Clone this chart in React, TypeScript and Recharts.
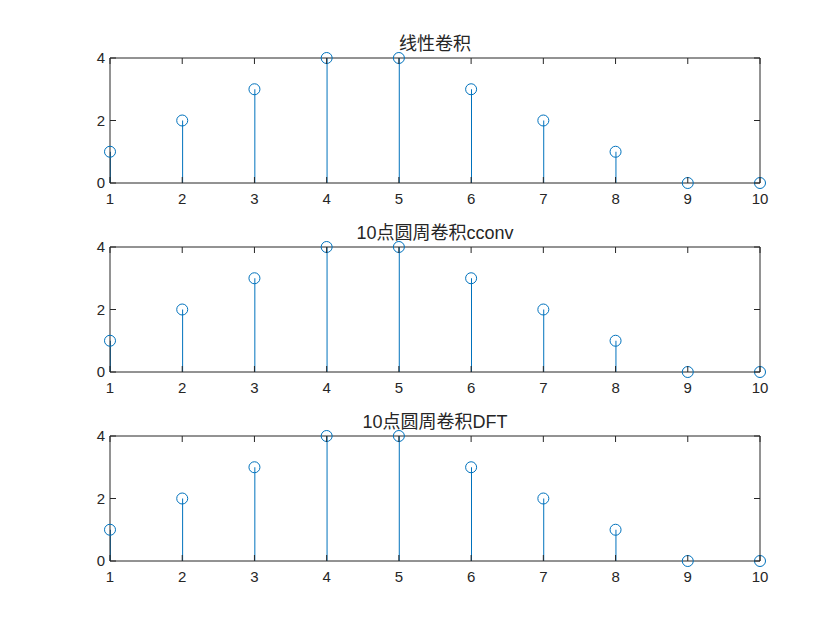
import { ComposedChart, Bar, Scatter, XAxis, YAxis } from 'recharts';

// 横坐标 n = 1..10
const nValues = [1, 2, 3, 4, 5, 6, 7, 8, 9, 10];
// 三个子图的结果
const linearConv = [1, 2, 3, 4, 4, 3, 2, 1, 0, 0];
const circConv = [1, 2, 3, 4, 4, 3, 2, 1, 0, 0];
const dftConv = [1, 2, 3, 4, 4, 3, 2, 1, 0, 0];
const titles = ['线性卷积', '10点圆周卷积cconv', '10点圆周卷积DFT'];
const xTicks = [1, 2, 3, 4, 5, 6, 7, 8, 9, 10];
const yTicks = [0, 2, 4];

const STEM = '#0072BD';
const AXIS = '#262626';
const FONT = '"Liberation Sans", Arial, "Noto Sans CJK SC", sans-serif';
const TICK_LEN = 6;

const BOX_TOPS = [57.5, 246.5, 435.5];
const M_TOP = 10;

const XTick = (props: any) => {
  const { x, y, payload, orientation } = props;
  if (orientation === 'top') {
    return <line x1={x} y1={y} x2={x} y2={y + TICK_LEN} stroke={AXIS} />;
  }
  return (
    <g>
      <line x1={x} y1={y} x2={x} y2={y - TICK_LEN} stroke={AXIS} />
      <text x={x} y={y + 21} textAnchor="middle" fontSize={15} fill={AXIS} fontFamily={FONT}>
        {payload.value}
      </text>
    </g>
  );
};

const YTick = (props: any) => {
  const { x, y, payload, orientation } = props;
  if (orientation === 'right') {
    return <line x1={x} y1={y} x2={x - TICK_LEN} y2={y} stroke={AXIS} />;
  }
  return (
    <g>
      <line x1={x} y1={y} x2={x + TICK_LEN} y2={y} stroke={AXIS} />
      <text x={x - 5} y={y} dy="0.36em" textAnchor="end" fontSize={15} fill={AXIS} fontFamily={FONT}>
        {payload.value}
      </text>
    </g>
  );
};

const StemHead = (props: any) => {
  const { cx, cy } = props;
  return <circle cx={cx} cy={cy} r={5.5} fill="none" stroke={STEM} strokeWidth={1} />;
};

const Nothing = () => <g />;

const StemPlot = ({ values, top }: { values: number[]; top: number }) => {
  const data = nValues.map((n, i) => ({ n, v: values[i] }));
  return (
    <div style={{ position: 'absolute', left: 0, top }}>
      <ComposedChart
        width={840}
        height={171}
        data={data}
        margin={{ top: M_TOP, right: 79, left: 80, bottom: 5 }}
      >
        <XAxis
          dataKey="n"
          type="number"
          domain={[1, 10]}
          ticks={xTicks}
          height={30}
          tickSize={0}
          tickMargin={0}
          stroke={AXIS}
          tick={<XTick orientation="bottom" />}
          tickLine={false}
        />
        <XAxis
          xAxisId="top"
          dataKey="n"
          type="number"
          orientation="top"
          domain={[1, 10]}
          ticks={xTicks}
          height={1}
          tickSize={0}
          tickMargin={0}
          stroke={AXIS}
          tick={<XTick orientation="top" />}
          tickLine={false}
        />
        <YAxis
          type="number"
          domain={[0, 4]}
          ticks={yTicks}
          width={30}
          tickSize={0}
          tickMargin={0}
          stroke={AXIS}
          tick={<YTick orientation="left" />}
          tickLine={false}
        />
        <YAxis
          yAxisId="right"
          type="number"
          orientation="right"
          domain={[0, 4]}
          ticks={yTicks}
          width={1}
          tickSize={0}
          tickMargin={0}
          stroke={AXIS}
          tick={<YTick orientation="right" />}
          tickLine={false}
        />
        <Bar dataKey="v" barSize={1} fill={STEM} isAnimationActive={false} />
        <Scatter dataKey="v" shape={<StemHead />} isAnimationActive={false} />
        {/* 只用来挂住上/右坐标轴，画出完整的框 */}
        <Scatter
          dataKey="v"
          xAxisId="top"
          yAxisId="right"
          shape={<Nothing />}
          legendType="none"
          isAnimationActive={false}
        />
      </ComposedChart>
    </div>
  );
};

export default function App() {
  const series = [linearConv, circConv, dftConv];
  return (
    <div style={{ position: 'absolute', left: 0, top: 0, width: 840, height: 630, background: '#fff' }}>
      {series.map((s, i) => (
        <StemPlot key={i} values={s} top={BOX_TOPS[i] - M_TOP - 1} />
      ))}
      <svg width={840} height={630} style={{ position: 'absolute', left: 0, top: 0, pointerEvents: 'none' }}>
        {titles.map((t, i) => (
          <text
            key={t}
            x={435}
            y={BOX_TOPS[i] - 7.5}
            textAnchor="middle"
            fontSize={18}
            fill={AXIS}
            fontFamily={FONT}
          >
            {t}
          </text>
        ))}
      </svg>
    </div>
  );
}
